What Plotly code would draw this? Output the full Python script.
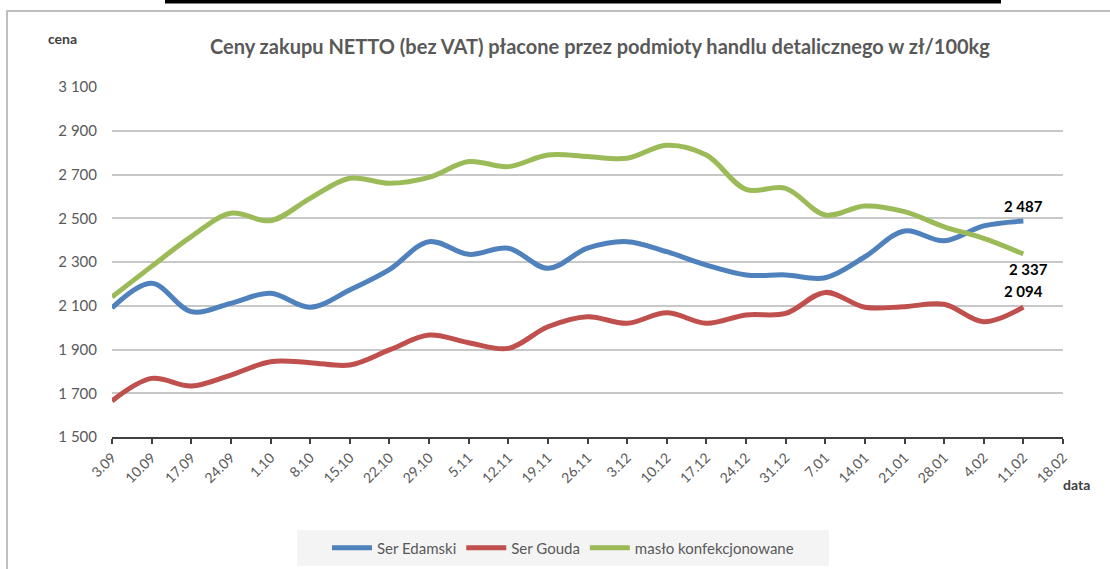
import plotly.graph_objects as go

categories = ["3.09", "10.09", "17.09", "24.09", "1.10", "8.10", "15.10", "22.10", "29.10",
              "5.11", "12.11", "19.11", "26.11", "3.12", "10.12", "17.12", "24.12", "31.12",
              "7.01", "14.01", "21.01", "28.01", "4.02", "11.02", "18.02"]

ser_edamski = [2090, 2203, 2073, 2111, 2157, 2093, 2172, 2265, 2393, 2335, 2363, 2271, 2363,
               2393, 2347, 2286, 2241, 2241, 2228, 2324, 2442, 2397, 2465, 2487]
ser_gouda = [1665, 1768, 1733, 1783, 1844, 1840, 1829, 1898, 1966, 1931, 1905, 2004, 2050,
             2020, 2068, 2020, 2058, 2065, 2161, 2093, 2096, 2107, 2027, 2094]
maslo = [2140, 2280, 2416, 2523, 2489, 2591, 2683, 2660, 2687, 2759, 2736, 2789, 2782,
         2774, 2834, 2789, 2632, 2637, 2515, 2556, 2530, 2461, 2408, 2337]

series = [
    ("Ser Edamski", ser_edamski, "#4F81BD"),
    ("Ser Gouda", ser_gouda, "#C0504D"),
    ("masło konfekcjonowane", maslo, "#9BBB59"),
]

y_ticks = [1500, 1700, 1900, 2100, 2300, 2500, 2700, 2900, 3100]
y_tick_text = ["1 500", "1 700", "1 900", "2 100", "2 300", "2 500", "2 700", "2 900", "3 100"]

FONT = "Lato"
W, H = 1110, 569
L, R, T, B = 112, 1063, 87, 437


def px(x):
    return (x - L) / (R - L)


def py(y):
    return (B - y) / (B - T)


fig = go.Figure()
for name, vals, color in series:
    fig.add_trace(go.Scatter(
        x=categories[:len(vals)], y=vals, name=name, mode="lines",
        line=dict(color=color, width=5, shape="spline", smoothing=1),
    ))


def fmt(v):
    return f"{v:,}".replace(",", " ")


labels = [(ser_edamski, 15, 0), (maslo, -15, 5), (ser_gouda, 16, 0)]
for vals, shift, xs in labels:
    fig.add_annotation(x=len(vals) - 1, y=vals[-1], text=fmt(vals[-1]),
                       showarrow=False, yshift=shift, xshift=xs,
                       xanchor="center", yanchor="middle",
                       font=dict(family=FONT, size=15, color="#000000", weight="bold"))

common = dict(xref="paper", yref="paper", showarrow=False, xanchor="center", yanchor="middle")
fig.add_annotation(x=px(62), y=py(38), text="cena",
                   font=dict(family=FONT, size=14, color="#404040", weight="bold"), **common)
fig.add_annotation(x=px(1076), y=py(484), text="data",
                   font=dict(family=FONT, size=14, color="#404040", weight="bold"), **common)
fig.add_annotation(x=px(600), y=py(46),
                   text="Ceny zakupu NETTO (bez VAT) płacone przez podmioty handlu detalicznego w zł/100kg",
                   font=dict(family=FONT, size=20, color="#595959", weight="bold"), **common)

# outer frame and top bar
fig.add_shape(type="rect", xref="paper", yref="paper", x0=px(7), x1=px(1160), y0=py(640), y1=py(11),
              line=dict(color="#BFBFBF", width=2), fillcolor="rgba(0,0,0,0)", layer="below")
fig.add_shape(type="rect", xref="paper", yref="paper", x0=px(165), x1=px(1001), y0=py(3.5), y1=py(-2),
              line=dict(width=0), fillcolor="#000000")
# legend background
fig.add_shape(type="rect", xref="paper", yref="paper", x0=px(297), x1=px(829), y0=py(566), y1=py(530),
              line=dict(width=0), fillcolor="#F4F4F4", layer="below")

fig.update_layout(
    width=W, height=H,
    margin=dict(l=L, r=W - R, t=T, b=H - B, autoexpand=False),
    paper_bgcolor="white", plot_bgcolor="white",
    showlegend=True,
    legend=dict(orientation="h", xref="container", yref="container",
                x=563 / W, y=1 - 548 / H, xanchor="center", yanchor="middle",
                bgcolor="rgba(0,0,0,0)", font=dict(family=FONT, size=15, color="#595959"),
                itemwidth=40, tracegroupgap=0),
    xaxis=dict(type="category", categoryorder="array", categoryarray=categories,
               range=[0, len(categories) - 1], showgrid=False, zeroline=False,
               showline=True, linecolor="#404040", linewidth=2,
               ticks="outside", ticklen=5, tickwidth=2, tickcolor="#404040",
               tickangle=-45, tickfont=dict(family=FONT, size=14, color="#595959")),
    yaxis=dict(range=[1500, 3100], tickvals=y_ticks, ticktext=y_tick_text,
               showgrid=True, gridcolor="#C8C8C8", gridwidth=1.5, zeroline=False,
               showline=False, ticks="", ticklabelstandoff=14,
               tickfont=dict(family=FONT, size=15, color="#595959")),
)

fig.write_html("out.html", config={"displayModeBar": False},
               post_script="document.body.style.margin='0';document.body.style.overflow='hidden';")
